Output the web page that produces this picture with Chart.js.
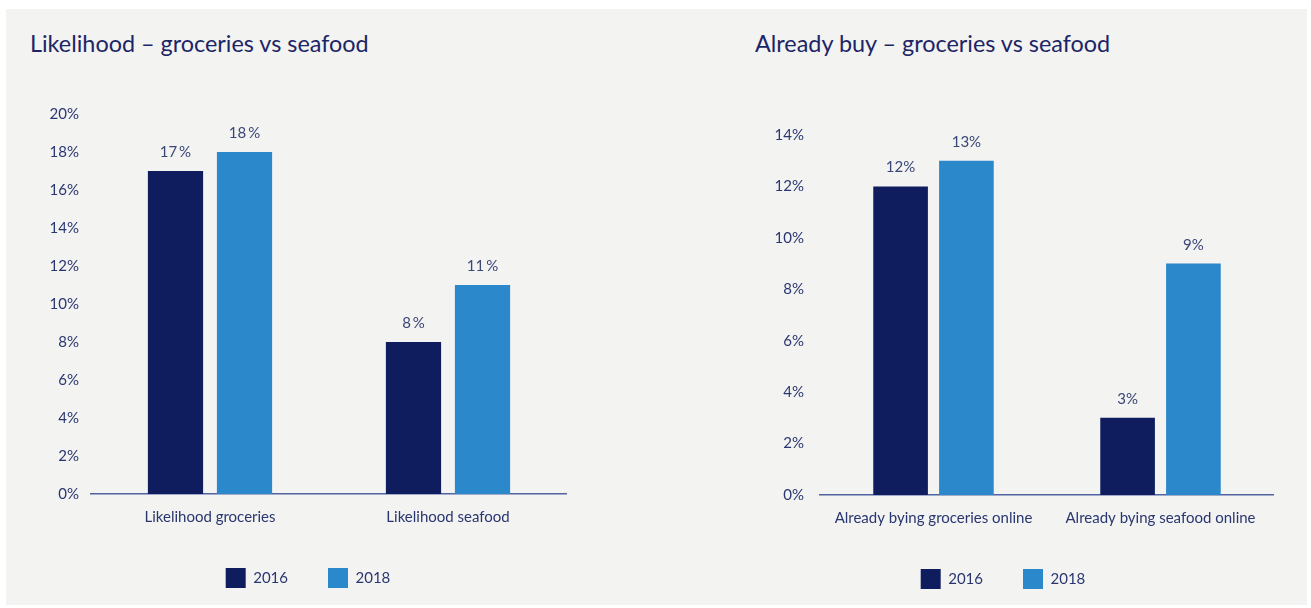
<!DOCTYPE html>
<html>
<head>
<meta charset="utf-8">
<script src="https://cdn.jsdelivr.net/npm/chart.js@4/dist/chart.umd.min.js"></script>
<style>
  html, body { margin: 0; padding: 0; width: 1311px; height: 608px; overflow: hidden; background: #ffffff; }
  #panel { position: absolute; left: 6px; top: 9px; width: 1301px; height: 596px; background: #f3f3f2; }
  .chart-title { position: absolute; top: 27px; margin: 0; font: 400 23.4px Lato, sans-serif; line-height: 32px; color: #1c2566; white-space: nowrap; }
  canvas { position: absolute; }
</style>
</head>
<body>
<div id="panel"></div>
<h2 class="chart-title" style="left:30px">Likelihood – groceries vs seafood</h2>
<h2 class="chart-title" style="left:755px">Already buy – groceries vs seafood</h2>
<canvas id="likelihood" width="561" height="589" style="left:6px;top:9px"></canvas>
<canvas id="alreadyBuy" width="574" height="590" style="left:700px;top:9px"></canvas>
<script>
// Survey years shown in each chart
const years = ['2016', '2018'];

// Likelihood of buying online, % of respondents
const likelihoodCategories = ['Likelihood groceries', 'Likelihood seafood'];
const likelihood2016 = [17, 8];
const likelihood2018 = [18, 11];
const likelihoodAxisMax = 20;

// Share already buying online, % of respondents
const alreadyBuyCategories = ['Already bying groceries online', 'Already bying seafood online'];
const alreadyBuy2016 = [12, 3];
const alreadyBuy2018 = [13, 9];
const alreadyBuyAxisMax = 14;

const tickStep = 2;
const percentSuffix = '%';

const colors = {
  navy: '#0f1d5f',
  blue: '#2b88cb',
  text: '#2a3670',
  label: '#3a4676',
  axis: '#5163a0'
};

const baseFont = 'Lato, sans-serif';

// Writes each bar's value above it
const valueLabels = {
  id: 'valueLabels',
  afterDatasetsDraw(chart, args, opts) {
    const ctx = chart.ctx;
    ctx.save();
    ctx.font = `15px ${baseFont}`;
    ctx.fillStyle = colors.label;
    ctx.textAlign = 'center';
    ctx.textBaseline = 'alphabetic';
    chart.data.datasets.forEach((ds, i) => {
      chart.getDatasetMeta(i).data.forEach((bar, j) => {
        ctx.fillText(ds.data[j] + opts.suffix, bar.x, bar.y - opts.offset);
      });
    });
    ctx.restore();
  }
};

function buildChart(canvasId, categories, first, second, axisMax, layout) {
  return new Chart(document.getElementById(canvasId), {
    type: 'bar',
    data: {
      labels: categories,
      datasets: [
        { label: years[0], data: first, backgroundColor: colors.navy,
          categoryPercentage: layout.categoryPercentage, barPercentage: layout.barPercentage },
        { label: years[1], data: second, backgroundColor: colors.blue,
          categoryPercentage: layout.categoryPercentage, barPercentage: layout.barPercentage }
      ]
    },
    options: {
      responsive: false,
      animation: false,
      devicePixelRatio: 1,
      layout: { padding: { left: layout.padLeft, top: layout.padTop, right: 0, bottom: 0 } },
      scales: {
        x: {
          grid: { display: false, drawTicks: false },
          border: { display: true, color: colors.axis, width: 1.5 },
          ticks: { color: colors.text, font: { family: baseFont, size: 15 }, padding: 14, maxRotation: 0 },
          afterFit(scale) { scale.height = 34; }
        },
        y: {
          min: 0,
          max: axisMax,
          grid: { display: false, drawTicks: false },
          border: { display: false },
          ticks: {
            stepSize: tickStep,
            color: colors.text,
            font: { family: baseFont, size: 15 },
            padding: layout.tickPad,
            callback: (v) => v + percentSuffix
          },
          afterFit(scale) { scale.width = layout.yWidth; }
        }
      },
      plugins: {
        legend: {
          position: 'bottom',
          labels: {
            boxWidth: 20,
            boxHeight: 20,
            padding: 40,
            color: colors.text,
            font: { family: baseFont, size: 15 }
          }
        },
        tooltip: { enabled: false },
        valueLabels: { suffix: layout.suffix, offset: 14 }
      }
    },
    plugins: [valueLabels]
  });
}

buildChart('likelihood', likelihoodCategories, likelihood2016, likelihood2018, likelihoodAxisMax, {
  padLeft: 43, padTop: 105, yWidth: 42, tickPad: 12,
  categoryPercentage: 0.58, barPercentage: 0.8, suffix: '\u2009' + percentSuffix
});

buildChart('alreadyBuy', alreadyBuyCategories, alreadyBuy2016, alreadyBuy2018, alreadyBuyAxisMax, {
  padLeft: 32, padTop: 126, yWidth: 88, tickPad: 16,
  categoryPercentage: 0.58, barPercentage: 0.83, suffix: percentSuffix
});
</script>
</body>
</html>
